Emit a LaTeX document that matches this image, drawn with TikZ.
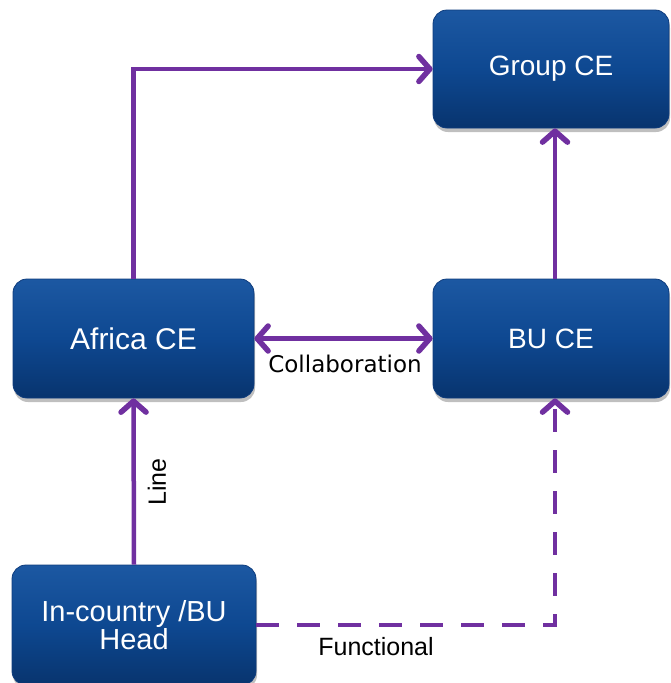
\documentclass[tikz,border=0pt]{standalone}
\usepackage{fontspec}
\setmainfont{Liberation Sans}
\newfontfamily\dejavu{DejaVu Sans}
\usetikzlibrary{arrows.meta,shadows,positioning}
\definecolor{arrowpurple}{RGB}{112,48,160}
\definecolor{boxtop}{RGB}{28,88,162}
\definecolor{boxmid}{RGB}{14,72,145}
\definecolor{boxbot}{RGB}{8,52,110}
\definecolor{boxedge}{RGB}{14,60,125}
\begin{document}
\begin{tikzpicture}[x=1pt,y=-1pt,
  cebox/.style={rounded corners=14pt, draw=boxedge, line width=0.8pt,
    top color=boxtop, bottom color=boxbot, middle color=boxmid,
    drop shadow={shadow xshift=1pt, shadow yshift=-4pt, opacity=0.25, fill=black},
    text=white, align=center, inner sep=0pt,
    font=\fontsize{28}{28}\selectfont},
  conn/.style={draw=arrowpurple, line width=4.5pt},
  arrowtip/.style={-{Straight Barb[length=11pt,width=25pt,round,line width=5.5pt]}},
  darrowtip/.style={{Straight Barb[length=11pt,width=25pt,round,line width=5.5pt]}-{Straight Barb[length=11pt,width=25pt,round,line width=5.5pt]}},
  dashline/.style={dash pattern=on 23pt off 18pt},
  lbl/.style={text=black, inner sep=0pt}
]
\useasboundingbox (0,0) rectangle (671,683);
\node[cebox, minimum width=236pt, minimum height=118pt] (group) at (551,69) {Group CE};
\node[cebox, minimum width=236pt, minimum height=119pt] (bu) at (551,338.5) {BU CE};
\node[cebox, minimum width=241pt, minimum height=119pt, font=\fontsize{30}{30}\selectfont] (africa) at (133.5,338.5) {Africa CE};
\node[cebox, minimum width=244pt, minimum height=120pt, font=\fontsize{29}{28}\selectfont] (head) at (134,625) {In-country /BU\\Head};

\coordinate (bend) at (555,625);
\draw[conn, arrowtip] (africa.north) |- (group.west);
\draw[conn, arrowtip] ([xshift=4pt]bu.north) -- ([xshift=4pt]group.south);
\draw[conn, darrowtip] (africa.east) -- (bu.west);
\draw[conn, arrowtip] (head.north) -- (africa.south);
\draw[conn, arrowtip, dashline] (head.east) -- (bend) -- ([xshift=4pt]bu.south);

\node[lbl, font=\dejavu\fontsize{23}{23}\selectfont] (collab) at (345,364) {Collaboration};
\node[lbl, font=\fontsize{25}{25}\selectfont, rotate=90] (linelbl) at (157,482) {Line};
\node[lbl, font=\fontsize{25}{25}\selectfont] (func) at (376,647) {Functional};
\end{tikzpicture}
\end{document}
